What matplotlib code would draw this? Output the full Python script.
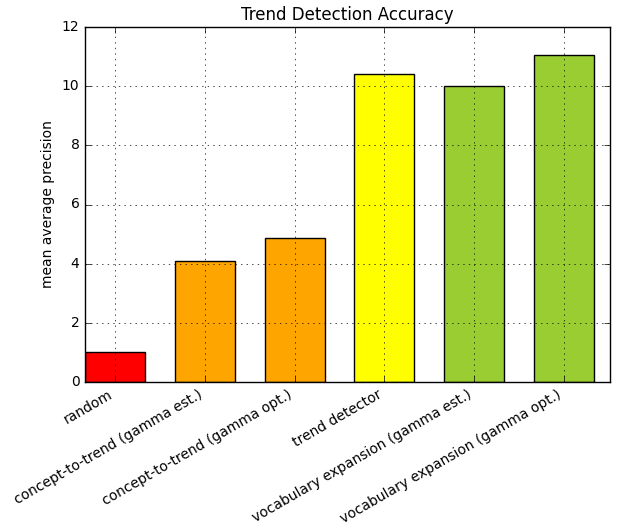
import matplotlib
matplotlib.use("Agg")
import matplotlib.pyplot as plt

plt.style.use('classic')
plt.rcParams['font.size'] = 10

categories = ["random", "concept-to-trend (gamma est.)", "concept-to-trend (gamma opt.)",
              "trend detector", "vocabulary expansion (gamma est.)", "vocabulary expansion (gamma opt.)"]
values = [1.0, 4.1, 4.87, 10.4, 10.0, 11.04]
colors = ["red", "orange", "orange", "yellow", "yellowgreen", "yellowgreen"]

fig = plt.figure(figsize=(6.18, 5.29), dpi=100, facecolor='white')
ax = fig.add_axes([85/618, 1-382/529, (610-85)/618, (382-27)/529])
x = list(range(len(categories)))
ax.bar(x, values, width=0.667, color=colors, edgecolor='black', align='center')
ax.set_xlim(-0.334, 5.512)
ax.set_ylim(0, 12)
ax.set_xticks(x)
ax.set_xticklabels(categories, rotation=30, ha='right', fontsize=10)
ax.tick_params(axis='y', labelsize=10)
ax.set_ylabel("mean average precision", fontsize=10)
ax.set_title("Trend Detection Accuracy", fontsize=12)
ax.grid(True)
fig.savefig("out.png", dpi=100, facecolor='white')
